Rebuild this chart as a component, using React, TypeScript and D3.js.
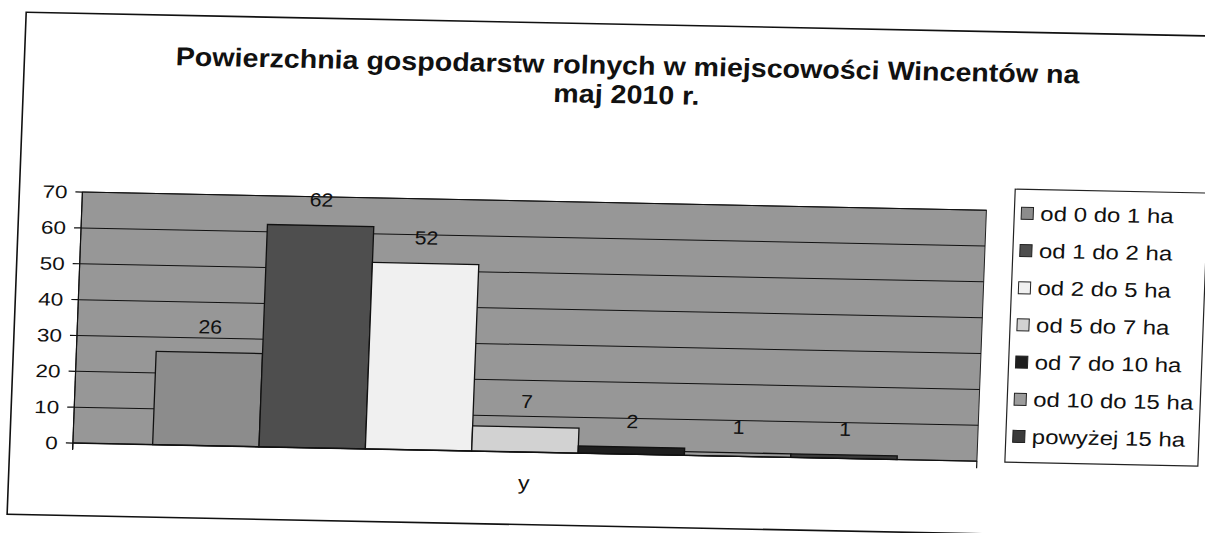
import React from "react";
import * as d3 from "d3";

// dane z wykresu
const categories = ["y"];
const seriesNames = [
  "od 0 do 1 ha",
  "od 1 do 2 ha",
  "od 2 do 5 ha",
  "od 5 do 7 ha",
  "od 7 do 10 ha",
  "od 10 do 15 ha",
  "powyżej 15 ha",
];
const seriesValues = [26, 62, 52, 7, 2, 1, 1];
const yTicks = [0, 10, 20, 30, 40, 50, 60, 70];
const titleLines = [
  "Powierzchnia gospodarstw rolnych w miejscowości Wincentów na",
  "maj 2010 r.",
];

const seriesFills = ["#8c8c8c", "#4e4e4e", "#f0f0f0", "#d2d2d2", "#1e1e1e", "#9c9c9c", "#3a3a3a"];
const font = "'Liberation Sans', Arial, sans-serif";

const width = 1205;
const height = 533;
const plot = { left: 80, right: 984, top: 202.5, bottom: 453.5 };

// skan jest lekko przekrzywiony
const scanTransform = "translate(602,266) matrix(1,0.02,-0.038,1,0,0) translate(-602,-266)";

export default function App() {
  const x = d3.scaleBand().domain(categories).range([plot.left, plot.right]);
  const xs = d3
    .scaleBand()
    .domain(seriesNames)
    .range([0, x.bandwidth()])
    .paddingInner(0)
    .paddingOuter(0.75);
  const y = d3.scaleLinear().domain([0, 70]).range([plot.bottom, plot.top]);
  const color = d3.scaleOrdinal<string, string>().domain(seriesNames).range(seriesFills);

  const legend = { x: 1012, y: 181, w: 193, h: 273 };
  const legendY = d3.scalePoint().domain(seriesNames).range([205, 428]);

  return (
    <svg
      width={width}
      height={height}
      style={{ position: "absolute", left: 0, top: 0, background: "#fff" }}
      fontFamily={font}
    >
      <rect width={width} height={height} fill="#fff" />
      <g transform={scanTransform}>
        {/* ramka wykresu */}
        <rect x={17} y={24} width={1210} height={502} fill="none" stroke="#111" strokeWidth={1.6} />

        {/* tytuł */}
        {titleLines.map((t, i) => (
          <text
            key={t}
            transform={`translate(620,${74 + i * 29}) scale(1.1,1)`}
            textAnchor="middle"
            fontSize={26}
            fontWeight="bold"
            fill="#111"
          >
            {t}
          </text>
        ))}

        {/* obszar kreślenia */}
        <rect
          x={plot.left}
          y={plot.top}
          width={plot.right - plot.left}
          height={plot.bottom - plot.top}
          fill="#979797"
          stroke="#222"
          strokeWidth={1}
        />
        {yTicks.slice(1).map((t) => (
          <line key={t} x1={plot.left} x2={plot.right} y1={y(t)} y2={y(t)} stroke="#111" strokeWidth={1} />
        ))}

        {/* słupki */}
        {categories.map((c) =>
          seriesNames.map((s, i) => (
            <rect
              key={c + s}
              x={(x(c) ?? 0) + (xs(s) ?? 0)}
              y={y(seriesValues[i])}
              width={xs.bandwidth()}
              height={y(0) - y(seriesValues[i])}
              fill={color(s)}
              stroke="#111"
              strokeWidth={1.3}
            />
          ))
        )}

        {/* etykiety danych */}
        {categories.map((c) =>
          seriesNames.map((s, i) => (
            <text
              key={"l" + c + s}
              transform={`translate(${(x(c) ?? 0) + (xs(s) ?? 0) + xs.bandwidth() / 2},${y(seriesValues[i]) - 19}) scale(1.12,1)`}
              textAnchor="middle"
              fontSize={19}
              fill="#111"
            >
              {seriesValues[i]}
            </text>
          ))
        )}

        {/* oś Y */}
        <line x1={plot.left} x2={plot.left} y1={plot.top} y2={plot.bottom + 6} stroke="#111" strokeWidth={1.2} />
        {yTicks.map((t) => (
          <g key={"t" + t}>
            <line x1={plot.left - 7} x2={plot.left} y1={y(t)} y2={y(t)} stroke="#111" strokeWidth={1.2} />
            <text
              transform={`translate(${plot.left - 15},${y(t) + 6.5}) scale(1.25,1)`}
              textAnchor="end"
              fontSize={18}
              fill="#111"
            >
              {t}
            </text>
          </g>
        ))}

        {/* oś X */}
        <line x1={plot.left} x2={plot.right} y1={plot.bottom} y2={plot.bottom} stroke="#111" strokeWidth={1.4} />
        {[plot.left, plot.right].map((px) => (
          <line key={"c" + px} x1={px} x2={px} y1={plot.bottom} y2={plot.bottom + 7} stroke="#111" strokeWidth={1.2} />
        ))}
        {categories.map((c) => (
          <text
            key={"cat" + c}
            transform={`translate(${(x(c) ?? 0) + x.bandwidth() / 2},491) scale(1.15,1)`}
            textAnchor="middle"
            fontSize={20}
            fill="#111"
          >
            {c}
          </text>
        ))}

        {/* legenda */}
        <rect x={legend.x} y={legend.y} width={legend.w} height={legend.h} fill="#fff" stroke="#222" strokeWidth={1.2} />
        {seriesNames.map((s) => (
          <g key={"lg" + s} transform={`translate(1019,${legendY(s)})`}>
            <rect x={0} y={-6} width={12} height={12} fill={color(s)} stroke="#222" strokeWidth={1} />
            <text transform="translate(19,7) scale(1.2,1)" fontSize={20} fill="#111">
              {s}
            </text>
          </g>
        ))}
      </g>
    </svg>
  );
}
